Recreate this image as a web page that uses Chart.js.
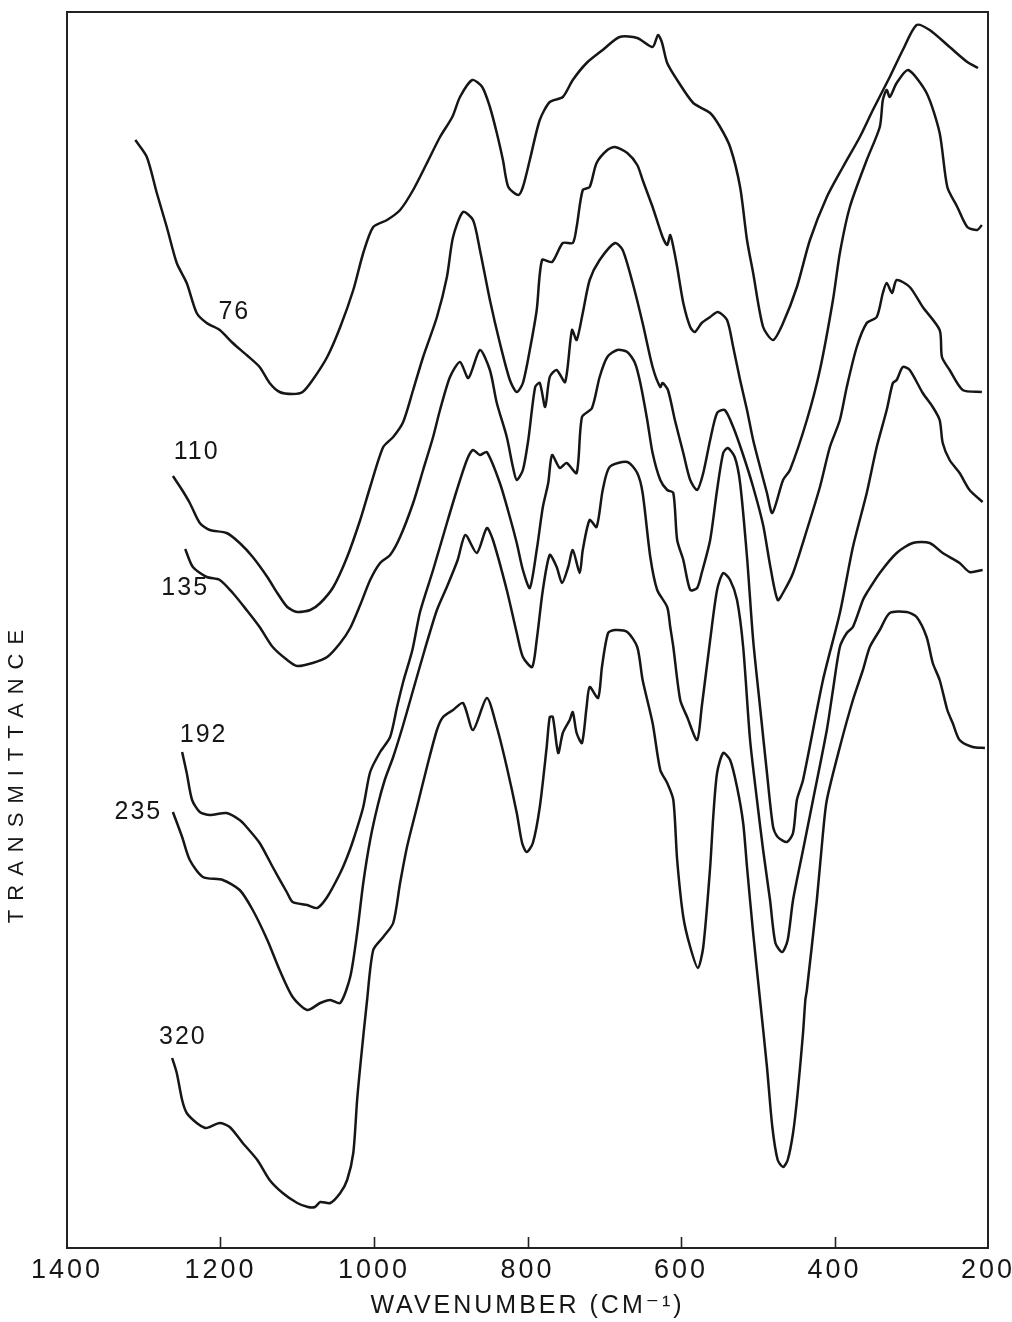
<!DOCTYPE html>
<html>
<head>
<meta charset="utf-8">
<title>Infrared spectra</title>
<script src="https://cdn.jsdelivr.net/npm/chart.js@4.4.1/dist/chart.umd.min.js"></script>
<style>
  html, body { margin: 0; padding: 0; background: #ffffff; }
  #wrap { width: 1012px; height: 1322px; }
</style>
</head>
<body>
<div id="wrap"><canvas id="spectra" width="1012" height="1322"></canvas></div>
<script>
// Wavenumber axis (cm-1) tick values and their printed labels
const xTickValues = [1400, 1200, 1000, 800, 600, 400, 200];
const xTickLabels = ['1400', '1200', '1000', '800', '600', '400', '200'];

// Curve names (printed next to each trace)
const curveNames = ['76', '110', '135', '192', '235', '320'];

// Trace 76: wavenumber (cm-1) and transmittance (arbitrary, offset units)
const wn76 = [1311,1296,1283,1270,1257,1244,1231,1218,1201,1184,1166,1149,1136,1123,1106,1093,1080,1061,1044,1027,1014,1001,983,966,949,931,914,898,888,872,859,849,840,832,825,812,806,797,784,771,754,741,723,702,680,657,637,630,625,618,605,584,562,549,536,523,514,506,493,480,467,449,432,410,389,367,350,328,311,293,276,250,227,213];
const tr76 = [110.8,109.1,105.5,102.1,98.5,96.5,93.5,92.5,91.8,90.5,89.3,88.1,86.5,85.6,85.4,85.6,86.8,89.1,92.1,95.8,99.5,102.1,102.8,103.8,105.8,108.5,111.1,113.1,115.1,116.8,116.1,114.1,111.5,108.8,106.1,105.3,106.1,108.8,112.8,114.6,115.1,116.8,118.5,119.8,121.1,121.0,120.1,121.3,120.6,118.5,116.8,114.5,113.5,112.1,110.1,106.1,100.8,97.5,92.1,90.8,92.5,96.1,100.8,105.1,108.1,111.1,113.8,117.1,119.8,122.3,121.8,120.1,118.6,118.0];

// Trace 110
const wn110 = [1262,1250,1240,1227,1214,1192,1175,1158,1139,1126,1113,1100,1083,1070,1053,1035,1018,1005,988,975,962,949,936,918,905,897,884,871,862,849,836,823,814,806,797,788,781,768,754,741,736,728,719,710,696,686,670,657,650,637,624,618,614,610,605,597,588,582,573,562,552,540,532,523,514,506,497,488,481,467,458,436,419,402,393,380,358,341,337,332,328,319,304,280,263,253,240,227,214,208];
const tr110 = [77.2,75.8,74.5,72.5,71.8,71.5,70.5,69.1,67.1,65.5,64.1,63.6,63.8,64.5,66.1,69.1,72.8,76.1,80.1,81.1,82.6,85.8,89.1,93.1,97.1,101.1,103.6,102.8,99.8,94.8,90.5,86.8,85.6,86.5,89.8,93.8,98.8,98.6,100.5,100.5,102.1,105.8,106.1,108.5,109.8,110.1,109.5,108.3,106.8,104.1,101.1,100.3,101.3,100.1,98.1,94.5,92.1,91.6,92.5,93.1,93.6,92.8,90.1,86.8,83.8,80.8,78.1,75.5,73.5,76.8,77.8,82.8,87.8,94.8,99.5,104.1,108.8,112.1,114.8,115.8,115.1,116.5,117.8,115.5,111.5,106.1,104.1,102.1,101.8,102.3];

// Trace 135
const wn135 = [1246,1236,1218,1201,1184,1166,1149,1132,1113,1100,1080,1061,1044,1031,1018,1005,992,979,966,949,936,923,914,901,888,877,862,849,840,827,819,814,806,799,790,784,777,771,762,751,742,736,728,719,706,686,676,663,650,637,627,624,617,608,597,588,579,571,562,553,543,532,519,506,493,484,474,465,454,436,419,406,393,384,371,358,345,337,332,325,319,302,285,263,260,250,233,208];
const tr135 = [69.9,68.1,67.1,66.8,65.5,63.8,62.1,60.1,58.8,58.2,58.5,59.1,60.5,62.0,64.3,66.8,68.5,69.3,71.1,74.5,77.8,81.1,83.8,87.1,88.6,87.0,89.8,87.8,84.5,81.1,78.1,76.8,77.8,80.8,86.1,86.5,84.1,87.1,87.8,86.6,91.8,90.8,93.5,96.8,98.8,100.5,99.8,96.5,92.5,88.1,86.1,86.5,85.8,82.8,79.5,76.8,75.8,77.5,80.8,83.5,83.8,82.1,79.3,76.1,72.3,68.3,64.8,65.8,67.5,71.8,76.1,80.1,82.8,86.1,90.1,92.5,93.1,95.5,96.5,95.5,96.8,96.1,94.1,91.8,89.1,87.8,85.8,85.6];

// Trace 192
const wn192 = [1250,1244,1237,1227,1214,1192,1175,1166,1149,1132,1113,1106,1087,1074,1061,1044,1035,1027,1014,1005,992,979,970,962,950,940,923,905,892,879,871,862,853,836,823,814,806,797,788,780,773,768,758,749,736,729,716,706,696,683,670,660,653,644,637,627,618,610,605,597,588,579,573,562,553,545,539,530,523,514,506,497,488,480,474,462,454,449,441,415,393,376,358,345,332,324,319,311,302,285,272,263,259,250,237,224,207];
const tr192 = [49.6,47.5,44.8,43.6,43.3,43.5,42.8,42.1,40.5,38.1,35.5,34.6,34.3,34.0,35.1,37.5,39.1,40.8,44.1,47.6,49.6,51.1,54.1,56.6,59.8,63.6,67.8,72.5,75.8,78.8,79.8,79.3,79.6,76.5,73.1,70.5,67.8,66.0,69.8,74.1,76.5,79.3,78.0,78.5,77.5,83.1,84.0,87.1,89.1,89.8,89.6,88.5,86.5,82.8,79.5,76.8,75.8,75.5,70.8,68.8,65.8,66.0,67.5,70.8,75.8,79.5,80.0,79.1,76.5,69.1,60.8,54.1,47.5,42.1,41.1,40.6,41.5,44.8,46.8,56.8,63.5,70.1,75.5,80.1,83.8,86.5,86.8,88.1,87.8,85.5,84.1,82.8,80.5,78.8,77.5,75.8,74.6];

// Trace 235
const wn235 = [1262,1250,1240,1223,1197,1175,1158,1139,1123,1106,1087,1070,1057,1044,1031,1022,1014,1005,995,986,975,962,949,934,918,904,891,881,866,853,845,827,814,806,794,788,780,771,762,755,747,741,732,728,719,710,702,693,670,657,650,640,631,618,614,610,601,592,579,573,562,553,545,536,527,519,510,501,493,484,477,468,461,454,441,428,410,402,393,384,376,363,358,341,319,298,276,259,237,224,207];
const tr235 = [43.6,41.1,38.8,37.1,36.8,35.8,33.8,30.8,27.8,25.1,23.8,24.5,24.8,24.5,27.1,31.5,36.5,40.8,44.3,46.8,49.1,52.3,55.8,59.8,63.8,66.3,68.8,71.3,69.5,72.0,70.8,65.8,61.5,59.1,58.1,60.8,65.8,69.3,68.1,66.5,68.1,69.8,67.5,69.8,72.8,72.1,75.8,78.1,78.6,77.5,75.5,69.1,65.8,64.1,62.1,60.1,54.8,53.1,50.8,54.1,60.8,65.8,67.5,66.8,64.8,60.1,50.8,44.8,39.8,34.8,30.5,29.6,30.8,34.8,39.8,44.8,51.8,55.8,60.1,61.5,62.1,64.8,65.5,67.5,69.5,70.5,70.5,69.5,68.5,67.6,67.8];

// Trace 320
const wn320 = [1263,1257,1250,1244,1231,1220,1214,1201,1188,1171,1152,1136,1119,1100,1086,1077,1070,1057,1044,1035,1027,1022,1018,1009,1001,988,975,966,957,944,931,918,910,897,884,871,853,840,827,814,807,801,793,784,775,771,767,760,754,745,741,736,729,723,719,708,703,695,686,670,657,650,637,627,618,610,605,597,588,578,571,562,558,553,545,536,527,519,514,506,497,488,481,474,467,461,454,448,441,438,436,423,415,410,393,376,363,354,341,328,306,293,280,272,263,253,246,237,220,204];
const tr320 = [19.0,17.5,14.8,13.5,12.5,12.0,12.1,12.5,12.1,10.5,8.8,6.8,5.5,4.5,4.1,4.1,4.6,4.5,5.5,6.8,9.5,14.8,18.1,24.8,29.8,31.1,32.5,36.5,40.1,44.1,48.1,51.8,53.1,53.8,54.5,51.8,55.0,52.1,48.1,43.5,40.5,39.6,40.5,44.1,50.1,53.1,53.1,49.5,51.5,52.8,53.6,51.5,50.5,54.1,56.1,55.0,58.1,61.5,61.8,61.6,60.1,56.8,52.5,47.8,46.5,44.8,38.8,33.1,30.1,28.0,30.1,38.1,43.1,47.5,49.5,48.8,46.1,42.5,38.1,31.5,24.8,18.1,12.1,8.8,8.1,8.8,11.5,15.5,21.5,24.8,25.8,34.8,41.5,44.8,50.1,54.8,57.8,60.1,61.8,63.5,63.6,63.1,61.1,58.5,56.8,53.8,52.5,50.8,50.1,50.0];

const wnSets = [wn76, wn110, wn135, wn192, wn235, wn320];
const trSets = [tr76, tr110, tr135, tr192, tr235, tr320];

// Where each curve name is printed, in axis units (wavenumber, transmittance)
const nameAnchors = [
  { x: 1182, y: 93.6 },
  { x: 1231, y: 79.6 },
  { x: 1246, y: 66.0 },
  { x: 1222, y: 51.3 },
  { x: 1307, y: 43.6 },
  { x: 1249, y: 21.1 }
];

const INK = '#161616';
const FONT = "'Liberation Sans', 'DejaVu Sans', sans-serif";

const datasets = curveNames.map((name, i) => ({
  label: name,
  data: wnSets[i].map((w, k) => ({ x: w, y: trSets[i][k] })),
  borderColor: INK,
  borderWidth: 2.5,
  pointRadius: 0,
  tension: 0.25,
  fill: false
}));

// Box around the plot, inward tick marks on the wavenumber axis,
// spaced lettering and the curve names.
const spectrumDecor = {
  id: 'spectrumDecor',
  beforeDraw(chart) {
    const ctx = chart.ctx;
    ctx.letterSpacing = '3px';
    const y = chart.scales.y;
    if (y && !y._spacedTitle) {
      const orig = y.drawTitle.bind(y);
      y.drawTitle = function () {
        const c = this.ctx;
        c.save();
        c.letterSpacing = '9px';
        c.translate(0, 142);
        orig();
        c.restore();
      };
      y._spacedTitle = true;
    }
  },
  afterDatasetsDraw(chart) {
    const { ctx, scales: { x, y } } = chart;
    ctx.save();
    ctx.fillStyle = INK;
    ctx.font = '25px ' + FONT;
    ctx.letterSpacing = '2px';
    ctx.textAlign = 'center';
    ctx.textBaseline = 'middle';
    curveNames.forEach((name, i) => {
      ctx.fillText(name, x.getPixelForValue(nameAnchors[i].x), y.getPixelForValue(nameAnchors[i].y));
    });
    ctx.restore();
  },
  afterDraw(chart) {
    const { ctx, chartArea: a, scales: { x } } = chart;
    ctx.save();
    ctx.strokeStyle = '#222';
    ctx.lineWidth = 2;
    ctx.strokeRect(a.left, a.top, a.right - a.left, a.bottom - a.top);
    ctx.lineWidth = 1.6;
    ctx.beginPath();
    xTickValues.slice(1, -1).forEach(v => {
      const px = Math.round(x.getPixelForValue(v)) + 0.5;
      ctx.moveTo(px, a.bottom);
      ctx.lineTo(px, a.bottom - 11);
    });
    ctx.stroke();
    ctx.restore();
  }
};

new Chart(document.getElementById('spectra'), {
  type: 'line',
  data: { datasets },
  plugins: [spectrumDecor],
  options: {
    responsive: false,
    animation: false,
    devicePixelRatio: 1,
    layout: { padding: { left: 0, right: 24, top: 12, bottom: 0 } },
    plugins: { legend: { display: false }, tooltip: { enabled: false } },
    scales: {
      x: {
        type: 'linear',
        reverse: true,
        min: 200,
        max: 1400,
        afterBuildTicks(scale) {
          scale.ticks = xTickValues.map(v => ({ value: v }));
        },
        afterFit(scale) {
          scale.height = 74;
          scale.paddingLeft = 0;
          scale.paddingRight = 0;
        },
        grid: { display: false, drawTicks: false },
        border: { display: false },
        ticks: {
          color: INK,
          font: { family: FONT, size: 27 },
          padding: 6,
          maxRotation: 0,
          autoSkip: false,
          callback: (v) => xTickLabels[xTickValues.indexOf(v)]
        },
        title: {
          display: true,
          text: 'WAVENUMBER (CM⁻¹)',
          color: INK,
          font: { family: FONT, size: 25 },
          padding: { top: 0, bottom: 1 }
        }
      },
      y: {
        type: 'linear',
        min: 0,
        max: 123.6,
        afterFit(scale) {
          scale.width = 67;
        },
        grid: { display: false, drawTicks: false },
        border: { display: false },
        ticks: { display: false },
        title: {
          display: true,
          text: 'TRANSMITTANCE',
          color: INK,
          font: { family: FONT, size: 22 },
          padding: { top: 4, bottom: 0 }
        }
      }
    }
  }
});
</script>
</body>
</html>
